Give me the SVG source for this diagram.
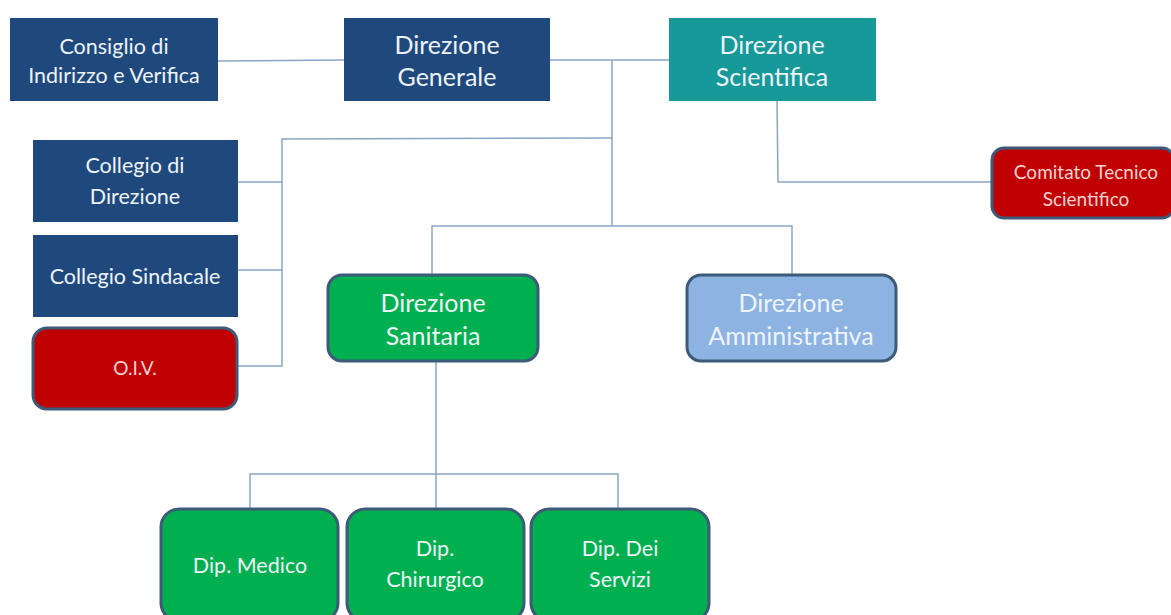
<svg xmlns="http://www.w3.org/2000/svg" width="1171" height="615" viewBox="0 0 1171 615">
<style>
.sq{stroke:none}
.rr{stroke:#3d5a78;stroke-width:3}
.blue{fill:#1f497d}
.teal{fill:#17999a}
.red{fill:#c00000}
.green{fill:#00b050}
.lb{fill:#8db3e2}
text{font-family:Lato,"Open Sans",sans-serif;fill:#eef3f8;text-anchor:middle}
.red+text,.pk{fill:#f6d2d2}
.ts{font-size:21.5px}
.tb{font-size:25px}
.tc{font-size:19px}
#connectors path{fill:none;stroke:#8aa6c4;stroke-width:1.5}
</style>
<rect width="1171" height="615" fill="#ffffff"/>
<g id="connectors">
<path d="M218 61 L344 60"/>
<path d="M550 60 L669 60"/>
<path d="M612 60 L612 226"/>
<path d="M612 138 L282 139 L282 367"/>
<path d="M238 182 L282 182"/>
<path d="M238 270 L282 270"/>
<path d="M238 366 L282 366"/>
<path d="M777 101 L778 182 L991 182"/>
<path d="M432 274 L432 226 L792 226 L792 274"/>
<path d="M436 362 L436 508"/>
<path d="M250 508 L250 474 L618 474 L618 508"/>
</g>
<g id="consiglio"><rect class="sq blue" x="10" y="18" width="208" height="83"/><text class="ts" x="114" y="54">Consiglio di</text><text class="ts" x="114" y="83">Indirizzo e Verifica</text></g>
<g id="dir-generale"><rect class="sq blue" x="344" y="18" width="206" height="83"/><text class="tb" x="447" y="54">Direzione</text><text class="tb" x="447" y="86">Generale</text></g>
<g id="dir-scientifica"><rect class="sq teal" x="669" y="18" width="207" height="83"/><text class="tb" x="772" y="54">Direzione</text><text class="tb" x="772" y="86">Scientifica</text></g>
<g id="collegio-direzione"><rect class="sq blue" x="33" y="140" width="205" height="82"/><text class="ts" x="135" y="173">Collegio  di</text><text class="ts" x="135" y="204">Direzione</text></g>
<g id="collegio-sindacale"><rect class="sq blue" x="33" y="235" width="205" height="82"/><text class="ts" x="135" y="284">Collegio Sindacale</text></g>
<g id="oiv"><rect class="rr red" x="33" y="328" width="204" height="81" rx="14"/><text class="tc pk" x="135" y="375">O.I.V.</text></g>
<g id="comitato"><rect class="rr red" x="992" y="148" width="182" height="70" rx="12"/><text class="tc pk" x="1086" y="179">Comitato Tecnico</text><text class="tc pk" x="1086" y="206">Scientifico</text></g>
<g id="dir-sanitaria"><rect class="rr green" x="328" y="275" width="210" height="86" rx="14"/><text class="tb" x="433" y="312">Direzione</text><text class="tb" x="433" y="345">Sanitaria</text></g>
<g id="dir-amministrativa"><rect class="rr lb" x="687" y="275" width="209" height="86" rx="14"/><text class="tb" x="791" y="312">Direzione</text><text class="tb" x="791" y="345">Amministrativa</text></g>
<g id="dip-medico"><rect class="rr green" x="161" y="509" width="177" height="112" rx="18"/><text class="ts" x="250" y="573">Dip. Medico</text></g>
<g id="dip-chirurgico"><rect class="rr green" x="347" y="509" width="177" height="112" rx="18"/><text class="ts" x="435" y="556">Dip.</text><text class="ts" x="435" y="587">Chirurgico</text></g>
<g id="dip-servizi"><rect class="rr green" x="531" y="509" width="178" height="112" rx="18"/><text class="ts" x="620" y="556">Dip. Dei</text><text class="ts" x="620" y="587">Servizi</text></g>
</svg>
